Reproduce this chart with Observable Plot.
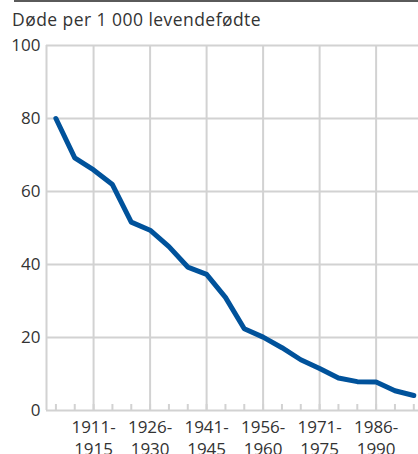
<!DOCTYPE html>
<html>
<head>
<meta charset="utf-8">
<script src="https://cdn.jsdelivr.net/npm/d3@7"></script>
<script src="https://cdn.jsdelivr.net/npm/@observablehq/plot@0.6"></script>
<style>
  html, body { margin: 0; padding: 0; background: #fff; }
  #wrap { position: relative; width: 418px; height: 454px; overflow: hidden; font-family: "Open Sans", sans-serif; }
  #rule { position: absolute; left: 14px; right: 0; top: 0; height: 2px; background: #5a5a5a; }
  #sub { position: absolute; left: 12px; top: 7px; font-size: 17.5px; letter-spacing: 0.45px; line-height: 24px; color: #333; white-space: nowrap; }
  #chart { position: absolute; left: 0; top: 30px; }
</style>
</head>
<body>
<div id="wrap">
  <div id="rule"></div>
  <div id="sub">Døde per 1 000 levendefødte</div>
  <div id="chart"></div>
</div>
<script>
const periods = ["1901-1905","1906-1910","1911-1915","1916-1920","1921-1925","1926-1930","1931-1935","1936-1940","1941-1945","1946-1950","1951-1955","1956-1960","1961-1965","1966-1970","1971-1975","1976-1980","1981-1985","1986-1990","1991-1995","1996-2000"];
const deaths = [80.0, 69.2, 65.9, 61.9, 51.6, 49.4, 44.9, 39.3, 37.3, 31.0, 22.4, 20.1, 17.2, 13.9, 11.5, 8.9, 7.9, 7.8, 5.4, 4.1];
const labeledPeriods = ["1911-1915","1926-1930","1941-1945","1956-1960","1971-1975","1986-1990"];
const yTicks = [0, 20, 40, 60, 80, 100];

const idx = periods.map((p, i) => i);
const labeledIdx = labeledPeriods.map(p => periods.indexOf(p));
const grey = "#d2d2d2";

const chart = Plot.plot({
  width: 418,
  height: 424,
  marginLeft: 46,
  marginRight: 0,
  marginTop: 15,
  marginBottom: 44,
  style: { fontFamily: "Open Sans, sans-serif", fontSize: "17px", color: "#333", background: "#fff" },
  x: { type: "linear", domain: [-0.5, 19.25] },
  y: { domain: [0, 100] },
  marks: [
    Plot.gridX({ ticks: labeledIdx, stroke: grey, strokeOpacity: 1, strokeWidth: 2 }),
    Plot.gridY({ ticks: yTicks.filter(t => t > 0), stroke: grey, strokeOpacity: 1, strokeWidth: 2 }),
    Plot.ruleX([-0.5], { y1: 0, y2: 100, stroke: grey, strokeWidth: 2 }),
    Plot.ruleY([0], { stroke: grey, strokeWidth: 2 }),
    Plot.axisX({ ticks: idx, tickSize: -6, tickFormat: () => "", stroke: grey, strokeWidth: 2, label: null }),
    Plot.axisX({ ticks: labeledIdx, tickSize: 0, tickPadding: 7, tickFormat: i => periods[i].replace("-", "-\n"), fill: "#333", fontSize: 17, lineHeight: 1.28, label: null }),
    Plot.axisY({ ticks: yTicks, tickSize: 0, tickPadding: 6, fill: "#333", fontSize: 17, label: null }),
    Plot.line(deaths, { x: (d, i) => i, y: d => d, stroke: "#00529b", strokeWidth: 5, strokeLinejoin: "round" })
  ]
});
document.getElementById("chart").appendChild(chart);
</script>
</body>
</html>
